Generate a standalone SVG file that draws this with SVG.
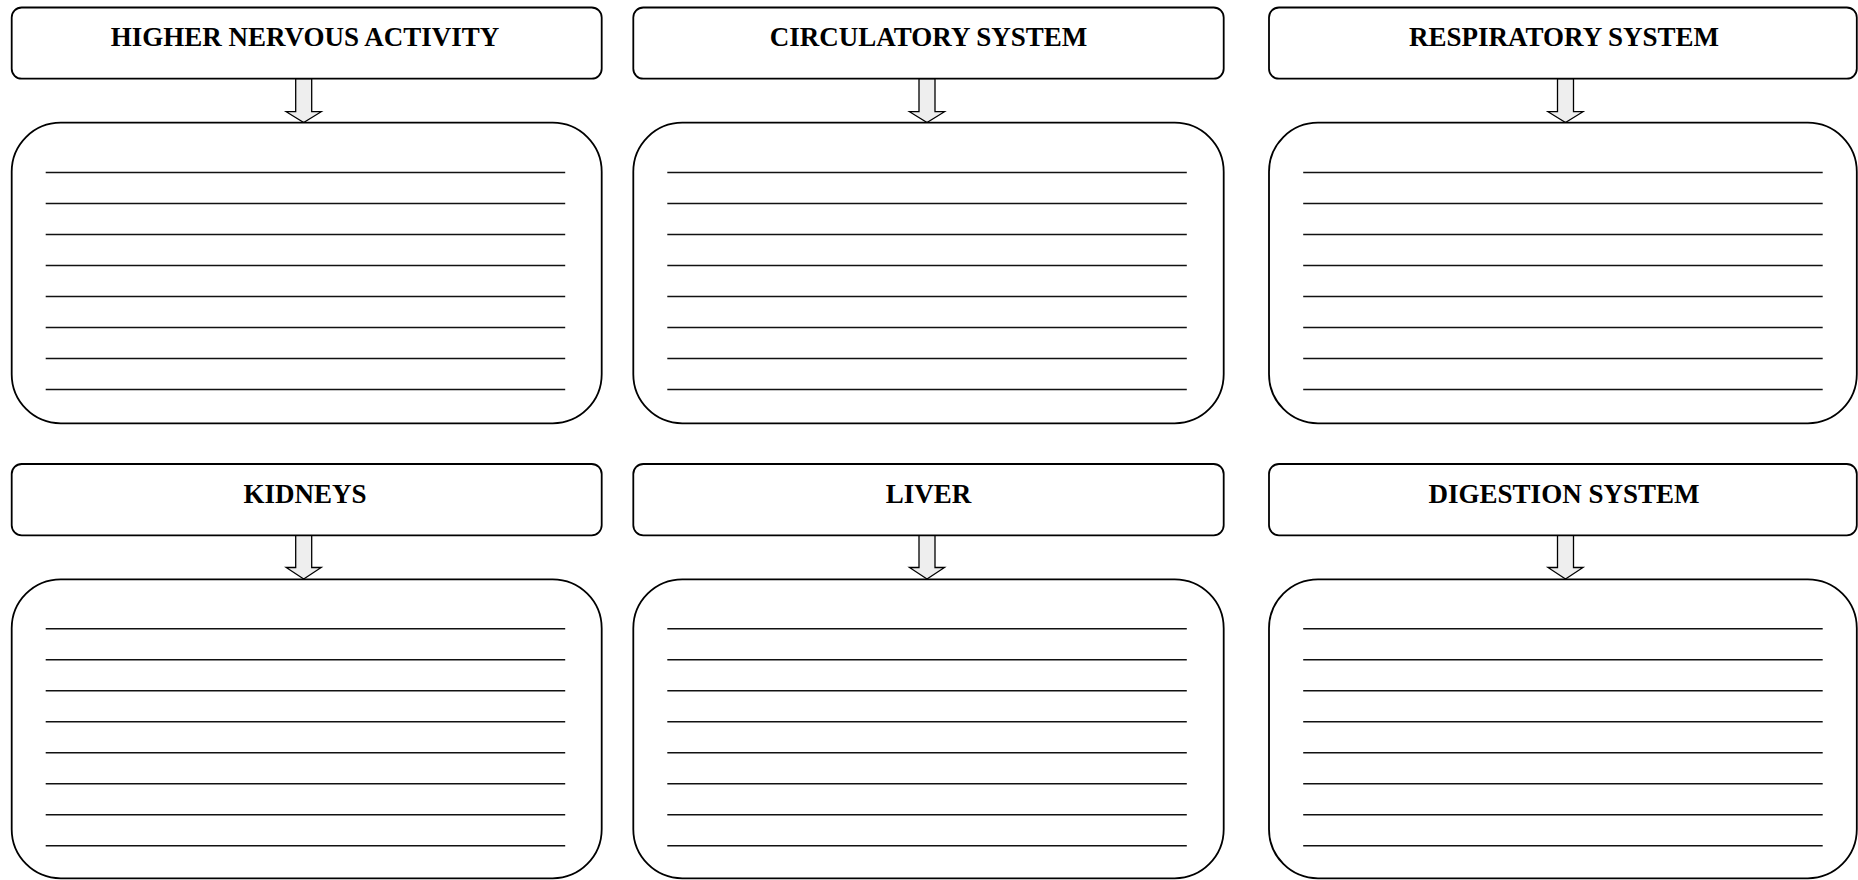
<svg xmlns="http://www.w3.org/2000/svg" width="1858" height="880" viewBox="0 0 1858 880">
<defs>
<style>
.title{fill:#fff;stroke:#000;stroke-width:1.8}
.body{fill:#fff;stroke:#000;stroke-width:1.8}
.lbl{font-family:"Liberation Serif","Times New Roman",serif;font-weight:bold;font-size:27px;fill:#000;text-anchor:middle}
.ln{stroke:#111;stroke-width:1.5}
.arr{fill:#eeeeee;stroke:#000;stroke-width:1.3;stroke-linejoin:miter}
</style>
<g id="rules">
<line class="ln" x1="34" y1="0" x2="553.5" y2="0"/>
<line class="ln" x1="34" y1="31" x2="553.5" y2="31"/>
<line class="ln" x1="34" y1="62" x2="553.5" y2="62"/>
<line class="ln" x1="34" y1="93" x2="553.5" y2="93"/>
<line class="ln" x1="34" y1="124" x2="553.5" y2="124"/>
<line class="ln" x1="34" y1="155" x2="553.5" y2="155"/>
<line class="ln" x1="34" y1="186" x2="553.5" y2="186"/>
<line class="ln" x1="34" y1="217" x2="553.5" y2="217"/>
</g>
</defs>
<rect width="1858" height="880" fill="#fff"/>

<g id="connectors">
<path class="arr" d="M295.7,78.7 V111.7 H286.2 L303.7,122.5 L321.2,111.7 H311.7 V78.7 Z"/>
<path class="arr" d="M919,78.7 V111.7 H909.5 L927,122.5 L944.5,111.7 H935 V78.7 Z"/>
<path class="arr" d="M1557.5,78.7 V111.7 H1548 L1565.5,122.5 L1583,111.7 H1573.5 V78.7 Z"/>
<path class="arr" d="M295.7,535.3 V567.5 H286.2 L303.7,579 L321.2,567.5 H311.7 V535.3 Z"/>
<path class="arr" d="M919,535.3 V567.5 H909.5 L927,579 L944.5,567.5 H935 V535.3 Z"/>
<path class="arr" d="M1557.5,535.3 V567.5 H1548 L1565.5,579 L1583,567.5 H1573.5 V535.3 Z"/>
</g>

<g id="higher-nervous-activity">
<rect class="title" x="11.7" y="7.5" width="590" height="71.2" rx="10" ry="10"/>
<text class="lbl" x="305" y="45.7">HIGHER NERVOUS ACTIVITY</text>
</g>
<g id="higher-nervous-activity-notes">
<rect class="body" x="11.7" y="122.7" width="590" height="300.6" rx="49" ry="49"/>
<use href="#rules" x="11.7" y="172.5"/>
</g>

<g id="circulatory-system">
<rect class="title" x="633.3" y="7.5" width="590.4" height="71.2" rx="10" ry="10"/>
<text class="lbl" x="928.5" y="45.7">CIRCULATORY SYSTEM</text>
</g>
<g id="circulatory-system-notes">
<rect class="body" x="633.3" y="122.7" width="590.4" height="300.6" rx="49" ry="49"/>
<use href="#rules" x="633.3" y="172.5"/>
</g>

<g id="respiratory-system">
<rect class="title" x="1269" y="7.5" width="587.8" height="71.2" rx="10" ry="10"/>
<text class="lbl" x="1564" y="45.7">RESPIRATORY SYSTEM</text>
</g>
<g id="respiratory-system-notes">
<rect class="body" x="1269" y="122.7" width="587.8" height="300.6" rx="49" ry="49"/>
<use href="#rules" x="1269.2" y="172.5"/>
</g>

<g id="kidneys">
<rect class="title" x="11.7" y="464" width="590" height="71.3" rx="10" ry="10"/>
<text class="lbl" x="305" y="502.5">KIDNEYS</text>
</g>
<g id="kidneys-notes">
<rect class="body" x="11.7" y="579.3" width="590" height="299" rx="49" ry="49"/>
<use href="#rules" x="11.7" y="628.8"/>
</g>

<g id="liver">
<rect class="title" x="633.3" y="464" width="590.4" height="71.3" rx="10" ry="10"/>
<text class="lbl" x="928.5" y="502.5">LIVER</text>
</g>
<g id="liver-notes">
<rect class="body" x="633.3" y="579.3" width="590.4" height="299" rx="49" ry="49"/>
<use href="#rules" x="633.3" y="628.8"/>
</g>

<g id="digestion-system">
<rect class="title" x="1269" y="464" width="587.8" height="71.3" rx="10" ry="10"/>
<text class="lbl" x="1564" y="502.5">DIGESTION SYSTEM</text>
</g>
<g id="digestion-system-notes">
<rect class="body" x="1269" y="579.3" width="587.8" height="299" rx="49" ry="49"/>
<use href="#rules" x="1269.2" y="628.8"/>
</g>
</svg>
